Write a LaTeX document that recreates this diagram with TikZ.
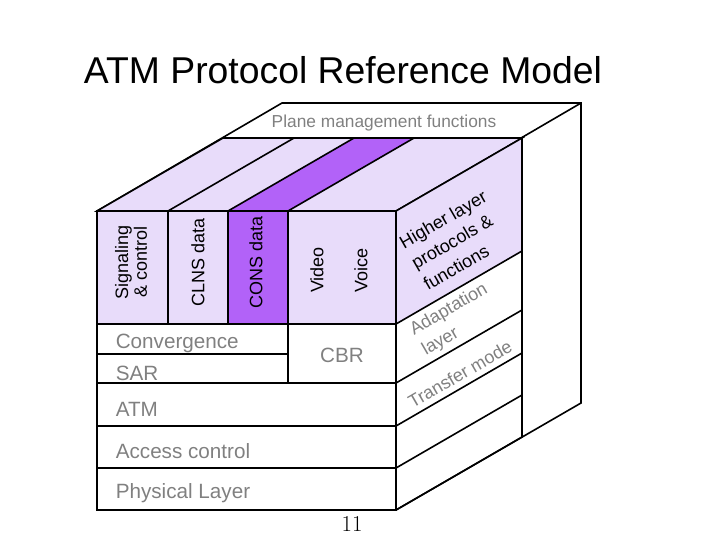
\documentclass[tikz,border=0pt]{standalone}
\usepackage{fontspec}
\setmainfont{Liberation Sans}
\usepackage{tikz}
\usetikzlibrary{positioning}
\definecolor{lilac}{RGB}{232,220,250}
\definecolor{violet}{RGB}{178,98,248}
\definecolor{greytext}{RGB}{128,128,128}
\begin{document}
\begin{tikzpicture}[x=0.75pt, y=-0.75pt, line width=1.2pt,
	col/.style={rotate=90, font=\fontsize{13.5}{14}\selectfont, align=center},
	lay/.style={anchor=west, text=greytext, font=\fontsize{15.5}{16}\selectfont, inner sep=0pt},
	side/.style={rotate=30, text=greytext, font=\fontsize{13.5}{18}\selectfont, align=left}]
		\useasboundingbox (0,0) rectangle (720,540);
		% outer plane management box
		\draw (97,211) -- (282,103) -- (581,103) -- (581,403) -- (396,510);
		\draw (396,211) -- (581,103);
		% top face of inner box
		\draw [fill=lilac] (97,211) -- (223,138) -- (522,138) -- (396,211) -- cycle;
		\draw [fill=violet] (228,211) -- (354,138) -- (414,138) -- (288,211) -- cycle;
		\draw (168,211) -- (294,138);
		% right face
		\draw [fill=lilac] (396,211) -- (522,138) -- (522,251) -- (396,324) -- cycle;
		\draw (522,251) -- (522,437) -- (396,510);
		\foreach \y in {383,426,468} {
			\draw (396,\y) -- (522,\y-73);
		}
		% front face
		\draw [fill=lilac] (97,211) rectangle (396,324);
		\draw [fill=violet] (228,211) rectangle (288,324);
		\draw (168,211) -- (168,324);
		\draw (97,324) rectangle (396,510);
		\draw (288,324) -- (288,383);
		\draw (97,354) -- (288,354);
		\foreach \y in {383,426,468} {
			\draw (97,\y) -- (396,\y);
		}
		% labels
		\node (title) at (343,70) {\fontsize{28}{30}\selectfont ATM Protocol Reference Model};
		\node [text=greytext, font=\fontsize{13}{14}\selectfont] (plane) at (384,123) {Plane management functions};
		\node [col] (sig) at (131,262) {Signaling\\\& control};
		\node [col] (clns) at (198,262) {CLNS data};
		\node [col] (cons) at (256,262) {CONS data};
		\node [col] (video) at (317,270) {Video};
		\node [col] (voice) at (361,270) {Voice};
		\node [side, text=black] (higher) at (455,240) {Higher layer\\protocols \&\\functions};
		\node [side] (adapt) at (455,320) {Adaptation\\layer};
		\node [side] (trans) at (460,374) {Transfer mode};
		\node [lay] (conv) at (115,343) {Convergence};
		\node [lay] (sar) at (115,373) {SAR};
		\node [text=greytext, font=\fontsize{15.5}{16}\selectfont] (cbr) at (342,355) {CBR};
		\node [lay] (atm) at (115,409) {ATM};
		\node [lay] (access) at (115,451) {Access control};
		\node [lay] (phys) at (115,493) {Physical Layer};
		\node [font=\fontfamily{lmr}\fontsize{17}{18}\selectfont] (page) at (352,524) {11};
	\end{tikzpicture}
\end{document}
